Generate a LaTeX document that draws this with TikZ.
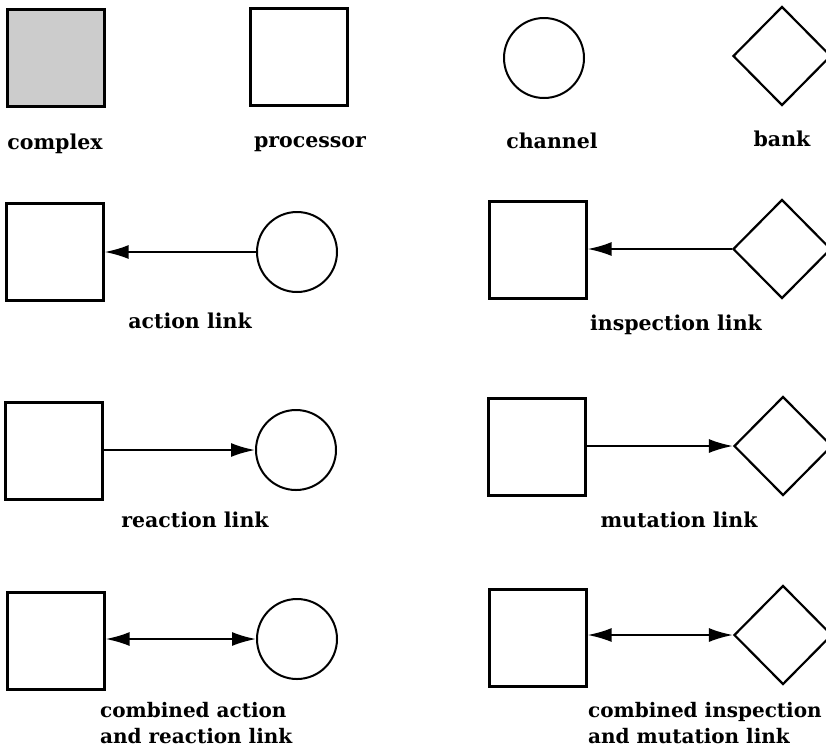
\documentclass[tikz,border=0pt]{standalone}
\usepackage{fontspec}
\setmainfont{DejaVu Serif}
\usetikzlibrary{shapes.geometric,arrows.meta}
\tikzset{
  box/.style={draw,line width=2.2pt,rectangle,minimum width=97pt,minimum height=97pt,inner sep=0pt},
  cplx/.style={box,fill=gray!40},
  chan/.style={draw,line width=2pt,circle,minimum size=80pt,inner sep=0pt},
  bankshape/.style={draw,line width=2.2pt,diamond,aspect=1,minimum width=98pt,minimum height=99pt,inner sep=0pt},
  lbl/.style={font=\bfseries\fontsize{20.5}{26}\selectfont,inner sep=0pt,anchor=base},
  lblml/.style={lbl,font=\bfseries\fontsize{20}{26}\selectfont,align=left,anchor=base west},
  tip/.tip={Latex[length=24pt,width=14pt]},
  link/.style={line width=2pt,tip-},
  linkr/.style={line width=2pt,-tip},
  linkb/.style={line width=2pt,tip-tip}
}
\begin{document}
\begin{tikzpicture}[x=1pt,y=-1pt]
\useasboundingbox (0,0) rectangle (826,748);
% row 1
\node[cplx] (cx) at (56,58) {};
\node[box] (pr) at (299,57) {};
\node[chan] (ch) at (544,58) {};
\node[bankshape] (bk) at (782,56) {};
\node[lbl] (lcx) at (55,149) {complex};
\node[lbl] (lpr) at (310,147) {processor};
\node[lbl] (lch) at (552,148) {channel};
\node[lbl] (lbk) at (782,146) {bank};
% row 2
\node[box] (s1) at (55,252) {};
\node[chan] (c1) at (297,252) {};
\node[box] (s2) at (538,250) {};
\node[bankshape] (d2) at (782,249) {};
\draw[link] (s1.east) -- (c1.west);
\draw[link] (s2.east |- d2.west) -- (d2.west);
\node[lbl] (l1) at (190,328) {action link};
\node[lbl] (l2) at (676,330) {inspection link};
% row 3
\node[box] (s3) at (54,451) {};
\node[chan] (c3) at (296,450) {};
\node[box] (s4) at (537,447) {};
\node[bankshape] (d4) at (783,446) {};
\draw[linkr] (s3.east |- c3.west) -- (c3.west);
\draw[linkr] (s4.east |- d4.west) -- (d4.west);
\node[lbl] (l3) at (195,527) {reaction link};
\node[lbl] (l4) at (679,527) {mutation link};
% row 4
\node[box] (s5) at (56,641) {};
\node[chan] (c5) at (297,639) {};
\node[box] (s6) at (538,638) {};
\node[bankshape] (d6) at (783,635) {};
\draw[linkb] (s5.east |- c5.west) -- (c5.west);
\draw[linkb] (s6.east |- d6.west) -- (d6.west);
\node[lblml] (l5) at (100,743) {combined action\\and reaction link};
\node[lblml] (l6) at (588,743) {combined inspection\\and mutation link};
\end{tikzpicture}
\end{document}
